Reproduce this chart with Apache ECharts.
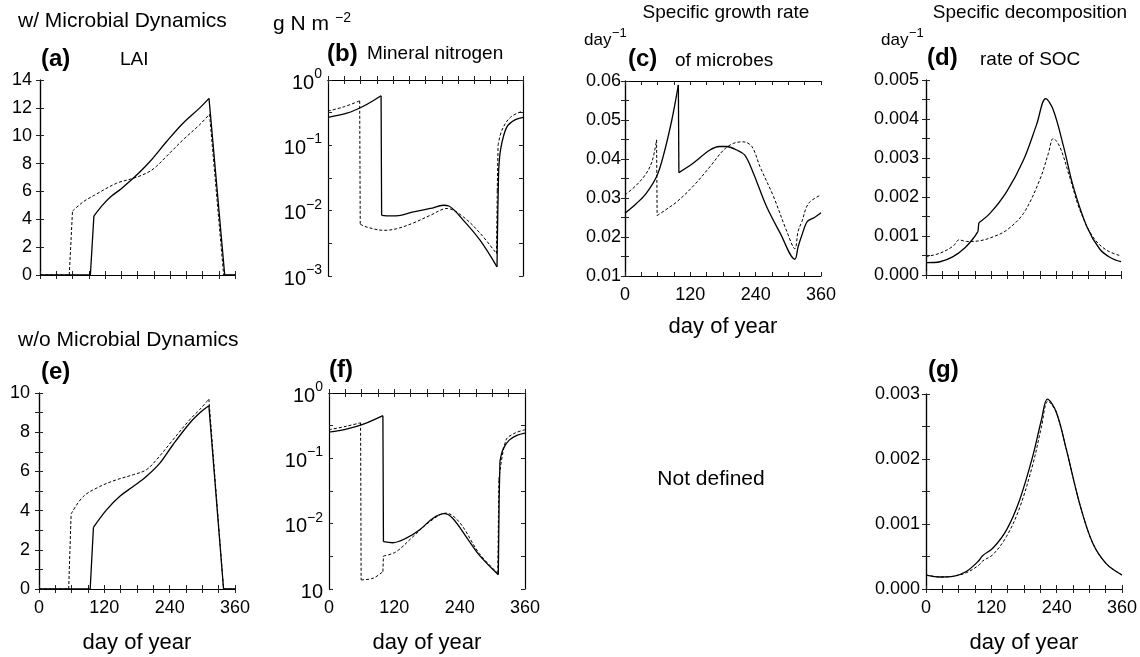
<!DOCTYPE html>
<html>
<head>
<meta charset="utf-8">
<script src="https://cdn.jsdelivr.net/npm/echarts@6/dist/echarts.min.js"></script>
<style>
  html, body { margin: 0; padding: 0; background: #fff; }
  #chart { width: 1140px; height: 657px; }
</style>
</head>
<body>
<div id="chart"></div>
<script>
'use strict'
var FONT = 'Liberation Sans, Arial, sans-serif'

// [day of year, value]
// (a) LAI, with microbial dynamics
var laiWSolid = [[0, 0], [93, 0], [99.5, 4.23], [115, 5.0], [130, 5.6], [150, 6.2], [175, 7.05], [203, 8.15], [233, 9.55], [264, 10.9], [295, 12.0], [312, 12.68], [341, 0], [360, 0]]
var laiWDashed = [[0, 0], [54, 0], [60, 4.59], [80, 5.26], [101, 5.74], [141, 6.58], [172, 6.94], [190, 7.2], [203, 7.45], [215, 7.8], [233, 8.5], [264, 9.7], [295, 10.8], [313, 11.55], [339, 0], [360, 0]]
// (b) mineral nitrogen, with microbial dynamics
var nitWSolid = [[0, 0.268], [35, 0.31], [66, 0.4], [98, 0.575], [99, 0.0085], [115, 0.0083], [134, 0.0085], [158, 0.0096], [189, 0.0108], [213, 0.0121], [223, 0.0118], [250, 0.0071], [281, 0.0035], [312, 0.00138], [313.5, 0.01], [315, 0.04], [319, 0.09], [330, 0.19], [345, 0.245], [360, 0.268]]
var nitWDashed = [[0, 0.335], [30, 0.39], [58.5, 0.48], [59.5, 0.0062], [72, 0.0056], [103, 0.005], [127, 0.0053], [158, 0.0065], [189, 0.0085], [220, 0.0108], [250, 0.008], [281, 0.0045], [311, 0.0022], [312.5, 0.02], [314, 0.1], [321, 0.17], [337, 0.27], [360, 0.335]]
// (c) specific growth rate of microbes
var grSolid = [[0, 0.0261], [21, 0.0286], [39, 0.0312], [58, 0.0355], [70, 0.0406], [86, 0.05], [98, 0.059], [99, 0.0365], [125, 0.0389], [156, 0.0423], [174, 0.0432], [187, 0.0432], [205, 0.0423], [220, 0.041], [236, 0.0363], [260, 0.0278], [285, 0.021], [312, 0.0143], [318, 0.0175], [325, 0.0205], [335, 0.024], [348, 0.025], [360, 0.0262]]
var grDashed = [[0, 0.0308], [21, 0.0333], [39, 0.0363], [50, 0.0395], [58, 0.0449], [59, 0.0255], [75, 0.027], [95, 0.029], [125, 0.033], [156, 0.038], [181, 0.0423], [199, 0.044], [217, 0.0444], [233, 0.0432], [248, 0.038], [273, 0.0303], [297, 0.0215], [312, 0.017], [318, 0.0215], [325, 0.024], [337, 0.0286], [360, 0.0308]]
// (d) specific decomposition rate of SOC
var decWSolid = [[0, 0.000316], [26, 0.00034], [50, 0.00047], [72, 0.0007], [88, 0.00095], [96, 0.00112], [97.5, 0.00134], [118, 0.00158], [149, 0.00214], [180, 0.00295], [204, 0.00385], [221, 0.00452], [235, 0.00423], [254, 0.00329], [272, 0.00226], [297, 0.00124], [321, 0.00066], [340, 0.00045], [360, 0.00034]]
var decWDashed = [[0, 0.00047], [26, 0.00056], [50, 0.00074], [61, 0.0009], [75, 0.00086], [100, 0.00088], [124, 0.00098], [149, 0.00115], [180, 0.00158], [210, 0.00244], [226, 0.00312], [235, 0.0035], [247, 0.00329], [266, 0.00248], [284, 0.00167], [308, 0.00098], [333, 0.00064], [360, 0.00049]]
// (e) LAI, without microbial dynamics
var laiOSolid = [[0, 0], [94, 0], [100, 3.15], [124, 4.04], [148, 4.72], [173, 5.23], [197, 5.74], [222, 6.42], [246, 7.36], [277, 8.47], [295, 8.98], [312, 9.35], [339, 0], [360, 0]]
var laiODashed = [[0, 0], [54.5, 0], [59, 3.83], [81, 4.71], [111, 5.22], [142, 5.57], [173, 5.83], [197, 6.08], [216, 6.6], [246, 7.61], [277, 8.64], [295, 9.15], [312, 9.69], [339, 0], [360, 0]]
// (f) mineral nitrogen, without microbial dynamics
var nitOSolid = [[0, 0.252], [32, 0.28], [62, 0.33], [99, 0.45], [100, 0.0053], [117, 0.0051], [142, 0.006], [166, 0.008], [191, 0.0121], [212, 0.0142], [227, 0.0121], [252, 0.0063], [276, 0.0033], [311, 0.00165], [312.5, 0.023], [314, 0.09], [320, 0.14], [331, 0.19], [345, 0.225], [360, 0.244]]
var nitODashed = [[0, 0.274], [32, 0.31], [58, 0.35], [59, 0.00138], [81, 0.00146], [99, 0.00185], [100, 0.0032], [123, 0.0037], [154, 0.0063], [185, 0.0107], [215, 0.0145], [240, 0.0104], [276, 0.0035], [310, 0.00174], [312, 0.047], [325, 0.19], [340, 0.24], [360, 0.274]]
// (g) specific decomposition rate, without microbial dynamics
var decOSolid = [[0, 0.000215], [26, 0.000185], [50, 0.000195], [74, 0.00027], [96, 0.000426], [104, 0.000513], [123, 0.00063], [148, 0.00091], [172, 0.00137], [196, 0.00204], [212, 0.0026], [223, 0.00292], [239, 0.00273], [258, 0.00214], [282, 0.00132], [306, 0.00071], [331, 0.00039], [360, 0.000215]]
var decODashed = [[0, 0.000215], [26, 0.000185], [50, 0.000195], [74, 0.00025], [96, 0.00036], [104, 0.00043], [123, 0.00053], [148, 0.00081], [172, 0.00125], [196, 0.00191], [212, 0.00249], [224, 0.00289], [239, 0.00272], [258, 0.00214], [282, 0.00132], [306, 0.00071], [331, 0.00039], [360, 0.000215]]

var xLabels = [0, 120, 240, 360]
var xName = 'day of year'

var grids = []
var xAxes = []
var yAxes = []
var series = []

var tickStyle = { show: true, inside: true, length: 4, lineStyle: { color: '#222', width: 1 } }
var axLine = { show: true, lineStyle: { color: '#000', width: 1.2 } }

function onStep(v, step) {
  return Math.abs(v / step - Math.round(v / step)) < 1e-6
}

// steps (near vertical jumps, flat zero runs) are drawn straight, the rest smoothed
function pieces(data) {
  var curve = []
  var jumps = []
  for (var i = 0; i < data.length; i++) {
    if (i > 0) {
      var a = data[i - 1], b = data[i]
      if (b[0] - a[0] <= 2 || a[1] === 0 || b[1] === 0) {
        curve.push([b[0], null])
        jumps.push(a, b, [b[0], null])
      }
    }
    curve.push(data[i])
  }
  return { curve: curve, jumps: jumps }
}

function addLine(xi, yi, data, style) {
  var p = pieces(data)
  series.push({
    type: 'line', xAxisIndex: xi, yAxisIndex: yi, data: p.curve, symbol: 'none',
    smooth: 0.35, connectNulls: false, lineStyle: style
  })
  series.push({
    type: 'line', xAxisIndex: xi, yAxisIndex: yi, data: p.jumps, symbol: 'none',
    smooth: false, connectNulls: false, lineStyle: style
  })
}

function addPanel(box, ycfg, showX, nameGap, solid, dashed) {
  var gi = grids.length
  grids.push({ left: box[0], top: box[1], width: box[2], height: box[3] })

  var xi = xAxes.length
  xAxes.push({
    type: 'value', gridIndex: gi, position: 'bottom', min: 0, max: 360, interval: 30,
    axisLine: axLine, axisTick: tickStyle, splitLine: { show: false },
    axisLabel: {
      show: showX, margin: 10, fontSize: 18, color: '#000', fontFamily: FONT,
      formatter: function(v) { return xLabels.indexOf(v) >= 0 ? String(v) : '' }
    },
    name: showX ? xName : '', nameLocation: 'middle', nameGap: nameGap,
    nameTextStyle: { fontSize: 22, color: '#000', fontFamily: FONT }
  })
  xAxes.push({
    type: 'value', gridIndex: gi, position: 'top', min: 0, max: 360, interval: 30,
    axisLine: axLine, axisTick: tickStyle, splitLine: { show: false }, axisLabel: { show: false }
  })

  var yi = yAxes.length
  if (ycfg.log) {
    // labelled decades
    yAxes.push({
      type: 'log', logBase: 10, gridIndex: gi, position: 'left', min: 0.001, max: 1,
      axisLine: axLine, axisTick: { show: false }, splitLine: { show: false },
      axisLabel: {
        margin: 6, color: '#000', fontFamily: FONT,
        formatter: function(v) {
          var e = Math.round(Math.log(v) / Math.LN10)
          if (ycfg.plainBottom && e === -3) return '{b|10}'
          return '{b|10}{s|' + (e < 0 ? '\u2212' + (-e) : e) + '}'
        },
        rich: {
          b: { fontSize: 20, fontFamily: FONT, color: '#000', verticalAlign: 'bottom', lineHeight: 26 },
          s: { fontSize: 14, fontFamily: FONT, color: '#000', verticalAlign: 'top', lineHeight: 26 }
        }
      }
    })
    // half-decade ticks, left and right
    yAxes.push({
      type: 'value', gridIndex: gi, position: 'left', min: -3, max: 0, interval: 0.5,
      axisLine: { show: false }, axisTick: tickStyle, splitLine: { show: false }, axisLabel: { show: false }
    })
    yAxes.push({
      type: 'value', gridIndex: gi, position: 'right', min: -3, max: 0, interval: 0.5,
      axisLine: axLine, axisTick: tickStyle, splitLine: { show: false }, axisLabel: { show: false }
    })
  } else {
    yAxes.push({
      type: 'value', gridIndex: gi, position: 'left', min: ycfg.min, max: ycfg.max, interval: ycfg.tick,
      axisLine: axLine, axisTick: tickStyle, splitLine: { show: false },
      axisLabel: {
        margin: ycfg.margin || 6, fontSize: 18, color: '#000', fontFamily: FONT,
        formatter: function(v) { return onStep(v, ycfg.label) ? v.toFixed(ycfg.dec) : '' }
      }
    })
    yAxes.push({
      type: 'value', gridIndex: gi, position: 'right', min: ycfg.min, max: ycfg.max, interval: ycfg.tick,
      axisLine: axLine, axisTick: tickStyle, splitLine: { show: false }, axisLabel: { show: false }
    })
  }

  addLine(xi, yi, dashed, { color: '#000', width: 1, type: [3, 2] })
  addLine(xi, yi, solid, { color: '#000', width: 1.3, type: 'solid' })
}

addPanel([40, 80, 195, 195], { min: 0, max: 14, tick: 2, label: 2, dec: 0, margin: 8 }, false, 0, laiWSolid, laiWDashed)
addPanel([328, 80, 195, 196], { log: true }, false, 0, nitWSolid, nitWDashed)
addPanel([625, 81, 196, 195], { min: 0.01, max: 0.06, tick: 0.005, label: 0.01, dec: 2, margin: 4 }, true, 40, grSolid, grDashed)
addPanel([926, 80, 195, 195], { min: 0, max: 0.005, tick: 0.0005, label: 0.001, dec: 3, margin: 7 }, false, 0, decWSolid, decWDashed)
addPanel([39, 393, 196, 196], { min: 0, max: 10, tick: 1, label: 2, dec: 0, margin: 9 }, true, 43, laiOSolid, laiODashed)
addPanel([329, 393, 196, 196], { log: true, plainBottom: true }, true, 43, nitOSolid, nitODashed)
addPanel([926, 394, 196, 195], { min: 0, max: 0.003, tick: 0.0005, label: 0.001, dec: 3, margin: 6 }, true, 43, decOSolid, decODashed)

function txt(x, y, s, size, bold, align) {
  return {
    type: 'text', x: x, y: y, silent: true,
    style: {
      text: s, fill: '#000', align: align || 'left', verticalAlign: 'middle',
      font: (bold ? 'bold ' : '') + size + 'px ' + FONT
    }
  }
}

var texts = [
  txt(18, 21, 'w/ Microbial Dynamics', 21),
  txt(18, 340, 'w/o Microbial Dynamics', 21),
  txt(41, 59, '(a)', 24, true),
  txt(120, 60, 'LAI', 19),
  txt(273, 24, 'g N m', 21),
  txt(335, 18, '\u22122', 14),
  txt(327, 54, '(b)', 24, true),
  txt(367, 54, 'Mineral nitrogen', 19),
  txt(726, 13, 'Specific growth rate', 19, false, 'center'),
  txt(584, 40, 'day', 17),
  txt(612, 33, '\u22121', 13),
  txt(628, 59, '(c)', 24, true),
  txt(675, 61, 'of microbes', 19),
  txt(1030, 13, 'Specific decomposition', 19, false, 'center'),
  txt(881, 40, 'day', 17),
  txt(909, 33, '\u22121', 13),
  txt(927, 58, '(d)', 24, true),
  txt(980, 60, 'rate of SOC', 19),
  txt(41, 372, '(e)', 24, true),
  txt(329, 370, '(f)', 24, true),
  txt(928, 370, '(g)', 24, true),
  txt(711, 479, 'Not defined', 21, false, 'center')
]

var chart = echarts.init(document.getElementById('chart'))
chart.setOption({
  animation: false,
  backgroundColor: '#fff',
  grid: grids,
  xAxis: xAxes,
  yAxis: yAxes,
  series: series,
  graphic: texts
})
</script>
</body>
</html>
